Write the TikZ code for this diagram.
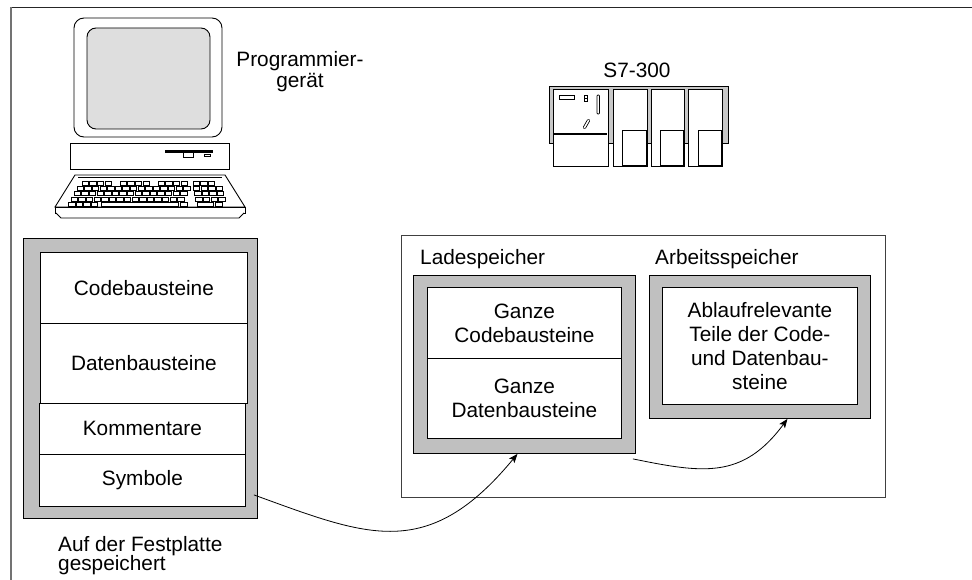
\documentclass[tikz,border=0pt]{standalone}
\usepackage{fontspec}
\setmainfont{Liberation Sans}
\usetikzlibrary{arrows.meta}
\definecolor{shellgray}{RGB}{192,192,192}
\definecolor{screengray}{RGB}{222,222,222}
\definecolor{railgray}{RGB}{200,200,200}
\begin{document}
\begin{tikzpicture}[x=1pt,y=-1pt,
  txt/.style={font=\fontsize{20.8}{24}\selectfont, inner sep=0pt},
  shell/.style={draw=black, fill=shellgray, line width=0.9pt, anchor=north west, inner sep=0pt},
  cell/.style={draw=black, fill=white, line width=0.8pt, anchor=north west, inner sep=0pt,
               align=center, font=\fontsize{20.8}{24}\selectfont},
  flow/.style={line width=0.8pt, -{Stealth[length=9pt,width=7pt,inset=2pt]}},
  outline/.style={draw=black, line width=0.9pt},
  keycap/.style={draw=black, fill=white, line width=0.5pt},
  module/.style={draw=black, fill=white, line width=0.8pt}
]
\useasboundingbox (0,0) rectangle (972,580);

% page frame (top and left edge)
\draw[black!85, line width=1.2pt] (10,7.5) -- (972,7.5);
\draw[black!55, line width=1.2pt] (11,7.5) -- (11,580);

% ---------- programming device ----------
% monitor
\draw[outline, fill=white, rounded corners=10pt] (74,18) rectangle (222,137);
\draw[outline, fill=screengray, rounded corners=9pt] (87,28) rectangle (210,129);
% system unit with floppy drive
\draw[outline, fill=white] (70,143) rectangle (229,169);
\fill[black] (165,150) rectangle (213,152.6);
\draw[line width=0.7pt, fill=white] (183,152.6) rectangle (193,157);
\draw[line width=0.7pt, fill=white] (204,154) rectangle (210,156.5);
% keyboard body
\draw[outline, fill=white] (75,175) -- (225,175) -- (245,207) -- (55,207) -- cycle;
\draw[line width=0.5pt] (78,177.5) -- (222,177.5);
\draw[outline, fill=white] (55,207) rectangle (245,213);
\draw[outline, fill=white] (56,213) -- (61,218) -- (239,218) -- (244,213);
% keys: function row in groups of four
\foreach \k in {0,1,2,3,5,6,7,8,10,11,12,13}
  \draw[keycap] ({82+7.6*\k},181.5) rectangle +(6.4,4);
% main rows
\foreach \r in {1,2,3}
  \foreach \k in {0,...,14}
    \draw[keycap] ({80-3*\r+7.6*\k},{181.5+5.1*\r}) rectangle +(6.4,4);
% bottom row with space bar
\foreach \k in {0,1,2,3}
  \draw[keycap] ({68.5+7.6*\k},202.2) rectangle +(6.4,4);
\draw[keycap] (101,202.2) rectangle (178,206.2);
\draw[keycap] (180,202.2) rectangle (187,206.2);
% numeric block
\foreach \k in {0,1,2}
  \draw[keycap] ({193+7.6*\k},181.5) rectangle +(6.4,4);
\foreach \r in {1,2,3}
  \foreach \k in {0,...,3}
    \draw[keycap] ({192+1.2*\r+7.6*\k},{181.5+5.1*\r}) rectangle +(6.4,4);
\draw[keycap] (197,202.2) rectangle (213,206.2);
\draw[keycap] (215,202.2) rectangle (222,206.2);

\node[txt, anchor=north, align=center, font=\fontsize{20.8}{21.7}\selectfont] (pglbl) at (300,51)
  {Programmier-\\gerät};

% ---------- S7-300 controller ----------
\node[txt] (plclbl) at (637,70) {S7-300};
\draw[line width=0.8pt, fill=railgray] (549,86) rectangle (728,143);
\foreach \a/\b in {553/608, 613/647, 651/684, 688/722}
  \draw[module] (\a,89) rectangle (\b,166);
\foreach \a/\b in {622/646, 660/683, 698/721}
  \draw[line width=0.8pt] (\a,130) rectangle (\b,165);
\draw[line width=1.2pt] (554,134) -- (607,134);
\draw[line width=0.7pt] (559,95) rectangle (574,99);
\draw[line width=0.6pt] (584,95) rectangle (587,98) (584,98) rectangle (587,101);
\draw[line width=0.7pt, rounded corners=0.8pt] (597,95) rectangle (599.5,114);
\draw[line width=3.2pt, line cap=round] (584.5,127.5) -- (588.5,120.5);
\draw[white, line width=1.5pt, line cap=round] (584.5,127.5) -- (588.5,120.5);

% ---------- hard disk contents ----------
\node[shell, minimum width=234pt, minimum height=280pt] (disk) at (23,238) {};
\node[cell, minimum width=207pt, minimum height=71pt, text depth=-3pt] (code) at (40,252) {Codebausteine};
\node[cell, minimum width=207pt, minimum height=80pt] (data) at (40,323) {Datenbausteine};
\node[cell, minimum width=206pt, minimum height=51pt] (komm) at (39,403) {Kommentare};
\node[cell, minimum width=206pt, minimum height=52pt] (symb) at (39,454) {Symbole};
\node[txt, anchor=north west, align=left, font=\fontsize{20.8}{19.5}\selectfont] (disklbl) at (58,536)
  {Auf der Festplatte\\gespeichert};

% ---------- CPU memory ----------
\node[draw=black!75, fill=white, line width=0.9pt, anchor=north west, inner sep=0pt,
      minimum width=484pt, minimum height=262pt] (cpu) at (401,235) {};
\node[txt, anchor=base west] (ladelbl) at (420,265) {Ladespeicher};
\node[shell, minimum width=222pt, minimum height=178pt] (lade) at (413,275) {};
\node[cell, minimum width=194pt, minimum height=71pt] (ganzcode) at (427,287) {Ganze\\Codebausteine};
\node[cell, minimum width=194pt, minimum height=80pt] (ganzdata) at (427,358) {Ganze\\Datenbausteine};
\node[txt, anchor=base west] (arblbl) at (655,265) {Arbeitsspeicher};
\node[shell, minimum width=221pt, minimum height=143pt] (arb) at (649,275) {};
\node[cell, minimum width=195pt, minimum height=117pt] (ablauf) at (662,287)
  {Ablaufrelevante\\Teile der Code-\\und Datenbau-\\steine};

% ---------- transfers ----------
\coordinate (diskout) at ([shift={(-4pt,24pt)}]disk.south east);
\coordinate (ladeout) at ([shift={(-3pt,-5pt)}]lade.south east);
\draw[flow] (diskout) .. controls +(113,41) and +(-90,109) .. ([xshift=-7pt]lade.south);
\draw[flow] (ladeout) .. controls +(69,14) and +(-45,61) .. ([xshift=27.5pt]arb.south);
\end{tikzpicture}
\end{document}
